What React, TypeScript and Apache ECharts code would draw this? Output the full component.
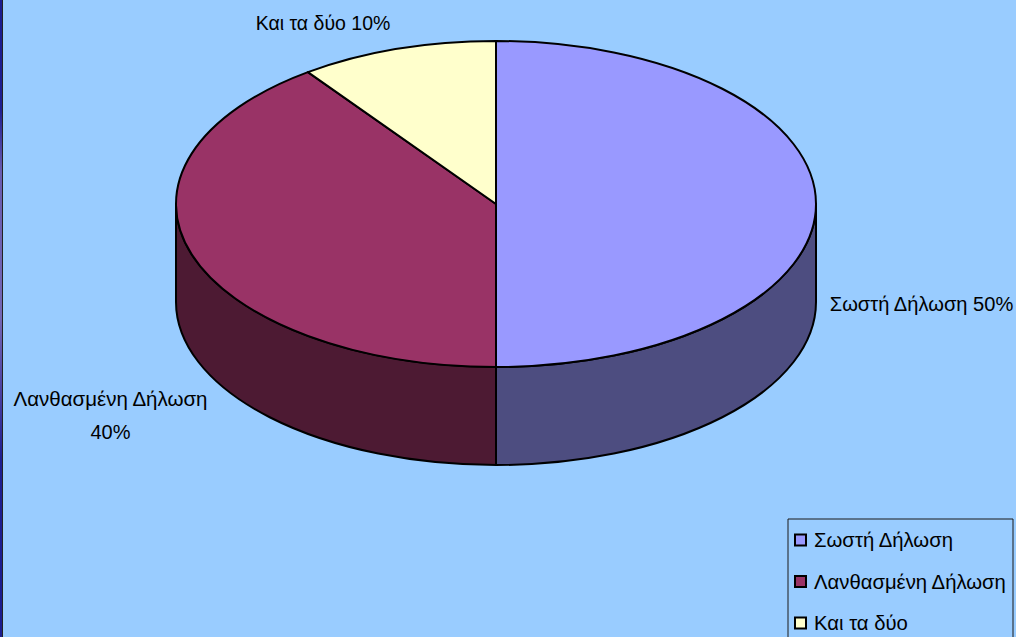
import React, { useEffect, useRef } from "react";
import * as echarts from "echarts";

const categories = ["Σωστή Δήλωση", "Λανθασμένη Δήλωση", "Και τα δύο"];
const shares = [50, 40, 10];
const topColors = ["#9999FF", "#993366", "#FFFFCC"];
const wallColors = ["#4D4D80", "#4D1A33", "#808066"];

const W = 1016;
const H = 637;
// The canvas runs past the visible frame so the legend box stays open at the bottom.
const CANVAS_H = 700;
const CX = 496;
const CY = 204;
const RX = 320;
const RY = 163;
const DEPTH = 98;
const FONT = "'Liberation Sans', Arial, sans-serif";

// Angles run clockwise from twelve o'clock, in degrees.
const pt = (deg: number, dy = 0) => {
  const a = (deg * Math.PI) / 180;
  return [CX + RX * Math.sin(a), CY + dy - RY * Math.cos(a)];
};

const topPath = (from: number, to: number) => {
  const [x1, y1] = pt(from);
  const [x2, y2] = pt(to);
  const large = to - from > 180 ? 1 : 0;
  return `M${CX} ${CY}L${x1} ${y1}A${RX} ${RY} 0 ${large} 1 ${x2} ${y2}Z`;
};

// Only the front half of the rim (90° to 270°) shows a wall.
const wallPath = (from: number, to: number) => {
  const a = Math.max(from, 90);
  const b = Math.min(to, 270);
  if (b <= a) return null;
  const [x1, y1] = pt(a);
  const [x2, y2] = pt(b);
  const [x3, y3] = pt(b, DEPTH);
  const [x4, y4] = pt(a, DEPTH);
  return `M${x1} ${y1}A${RX} ${RY} 0 0 1 ${x2} ${y2}L${x3} ${y3}A${RX} ${RY} 0 0 0 ${x4} ${y4}Z`;
};

const total = shares.reduce((s, v) => s + v, 0);
const startOf = (i: number) =>
  (shares.slice(0, i).reduce((s, v) => s + v, 0) / total) * 360;

const outline = { stroke: "#000", lineWidth: 2, lineJoin: "round" };

const sliceSeries = categories.map((name, i) => ({
  type: "custom",
  name,
  coordinateSystem: "none",
  silent: true,
  itemStyle: { color: topColors[i] },
  data: [[shares[i]]],
  renderItem: (_params: unknown, api: any) => {
    const value = api.value(0) as number;
    const from = startOf(i);
    const to = from + (value / total) * 360;
    const wall = wallPath(from, to);
    const children: any[] = [];
    if (wall) {
      children.push({
        type: "path",
        shape: { pathData: wall },
        style: { fill: wallColors[i], ...outline },
      });
    }
    children.push({
      type: "path",
      shape: { pathData: topPath(from, to) },
      style: { fill: topColors[i], ...outline },
    });
    return { type: "group", children };
  },
}));

const labelText = (s: string, x: number, y: number, size = 20) => ({
  type: "text",
  x,
  y,
  style: {
    text: s,
    font: `${size}px ${FONT}`,
    fill: "#000",
    align: "center",
    verticalAlign: "middle",
  },
});

export default function App() {
  const ref = useRef<HTMLDivElement>(null);

  useEffect(() => {
    document.body.style.margin = "0";
    document.body.style.overflow = "hidden";
    const chart = echarts.init(ref.current!, null, { renderer: "svg" });
    chart.setOption({
      animation: false,
      backgroundColor: "#99CCFF",
      legend: {
        orient: "vertical",
        left: 788,
        top: 519,
        padding: [11, 6, 30, 6],
        itemGap: 21.5,
        itemWidth: 11,
        itemHeight: 11,
        borderColor: "#1a1a1a",
        borderWidth: 1,
        selectedMode: false,
        textStyle: { fontFamily: FONT, fontSize: 20.3, color: "#000", padding: [0, 0, 0, 3] },
        data: categories.map((name, i) => ({
          name,
          icon: "rect",
          itemStyle: { color: topColors[i], borderColor: "#000", borderWidth: 2 },
        })),
      },
      graphic: [
        {
          type: "rect",
          shape: { x: 0, y: 0, width: 2, height: H },
          style: {
            fill: new echarts.graphic.LinearGradient(0, 0, 0, 1, [
              { offset: 0, color: "#1C1C8E" },
              { offset: 0.17, color: "#1F1F90" },
              { offset: 0.27, color: "#6A5CB0" },
              { offset: 0.5, color: "#7466B4" },
              { offset: 0.62, color: "#4A3FA0" },
              { offset: 0.72, color: "#1F1F90" },
              { offset: 1, color: "#1C1C8E" },
            ]),
          },
        },
        { type: "rect", shape: { x: 2, y: 0, width: 1, height: H }, style: { fill: "#222" } },
        labelText(`${categories[2]} ${shares[2]}%`, 323, 23, 19.5),
        labelText(`${categories[0]} ${shares[0]}%`, 921.5, 304, 20.1),
        labelText(categories[1], 110.5, 398, 20.5),
        labelText(`${shares[1]}%`, 110.5, 432),
      ],
      series: sliceSeries,
    });
    return () => chart.dispose();
  }, []);

  return (
    <div style={{ width: W, height: H, overflow: "hidden" }}>
      <div ref={ref} style={{ width: W, height: CANVAS_H }} />
    </div>
  );
}
